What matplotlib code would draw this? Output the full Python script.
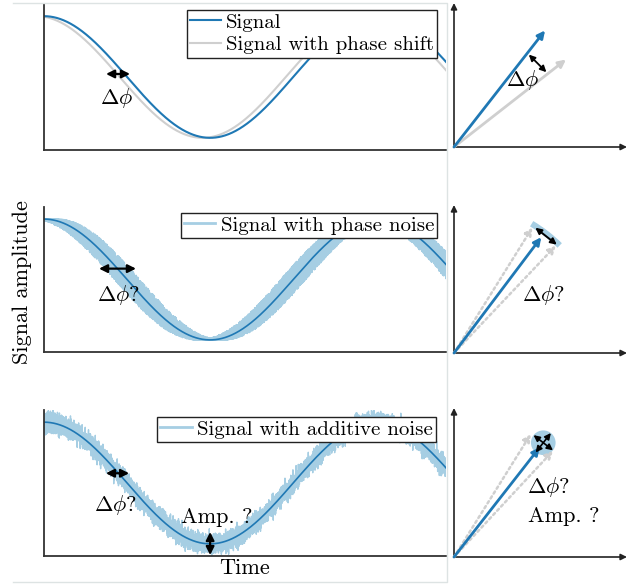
import numpy as np
import matplotlib
matplotlib.use("Agg")
import matplotlib.pyplot as plt
from matplotlib.lines import Line2D
from matplotlib.patches import Circle, Arc

plt.rcParams["font.family"] = ["cmr10", "DejaVu Serif"]
plt.rcParams["mathtext.fontset"] = "cm"
plt.rcParams["axes.formatter.use_mathtext"] = True

# signal parameters (phase in radians, amplitude normalised to 1)
t_end = 2.42 * np.pi
phase_shift = 0.14
phase_noise_max = 0.24
additive_noise_std = 0.075
n_points = 12000

# phasor diagrams: (length, angle in degrees)
phasor_ref = (1.02, 52.0)
phasor_shifted = (0.98, 38.0)
phasor_pn = (1.00, 53.0)
phasor_pn_spread = (1.02, 58.0, 46.5)     # length, upper angle, lower angle
phasor_an = (0.96, 52.0)
phasor_an_spread = (1.00, 58.0, 47.0)
an_disc_radius = 0.085

labels = ["Signal", "Signal with phase shift", "Signal with phase noise",
          "Signal with additive noise"]

dark_blue = "#1f78b4"
light_blue = "#a6cee3"
grey = "#cfcfcf"
dotted = (0, (1.0, 1.3))

W, H = 635, 586
fig = plt.figure(figsize=(W / 100, H / 100), dpi=100)


def px_axes(x0, y0, x1, y1):
    return fig.add_axes([x0 / W, 1 - y1 / H, (x1 - x0) / W, (y1 - y0) / H])


def style_time_axes(ax):
    ax.set_xlim(0, t_end)
    ax.set_ylim(-1.2, 1.2)
    ax.set_xticks([])
    ax.set_yticks([])
    for s in ["top", "right"]:
        ax.spines[s].set_visible(False)
    for s in ["left", "bottom"]:
        ax.spines[s].set_color("#333333")
        ax.spines[s].set_linewidth(1.3)


def style_phasor_axes(ax, h_px):
    ax.set_xlim(0, 173 / 145)
    ax.set_ylim(0, h_px / 145)
    ax.set_xticks([])
    ax.set_yticks([])
    ax.axis("off")
    ax.set_facecolor("none")
    for end in [(1, 0), (0, 1)]:
        ax.annotate("", xy=end, xytext=(0, 0), xycoords="axes fraction",
                    arrowprops=dict(arrowstyle="-|>", color="#222222", lw=1.2,
                                    mutation_scale=9, shrinkA=0, shrinkB=0))


def polar(r, deg):
    a = np.deg2rad(deg)
    return r * np.cos(a), r * np.sin(a)


def arrow(ax, xy, xytext, color, lw=1.8, ls="-", style="-|>", ms=11):
    ax.annotate("", xy=xy, xytext=xytext,
                arrowprops=dict(arrowstyle=style, color=color, lw=lw, ls=ls,
                                mutation_scale=ms, shrinkA=0, shrinkB=0))


def legend(ax, handles, anchor):
    leg = ax.legend(handles=handles, loc="upper right", bbox_to_anchor=anchor,
                    borderaxespad=0, fontsize=15, fancybox=False, framealpha=1,
                    edgecolor="#222222", handlelength=1.5, handletextpad=0.25,
                    borderpad=0.15, labelspacing=0.2)
    leg.get_frame().set_linewidth(1.0)


t = np.linspace(0, t_end, n_points)
rng = np.random.default_rng(7)

# --- row 1: phase shift ---
ax1 = px_axes(44, 4, 446, 150)
style_time_axes(ax1)
ax1.plot(t, np.cos(t + phase_shift), color=grey, lw=1.5)
ax1.plot(t, np.cos(t), color=dark_blue, lw=1.5)
legend(ax1, [Line2D([], [], color=dark_blue, lw=1.5, label=labels[0]),
             Line2D([], [], color=grey, lw=1.5, label=labels[1])], (0.978, 0.959))
arrow(ax1, (1.627, 0.05), (1.173, 0.05), "black", lw=1.6, style="<|-|>", ms=12)
ax1.text(1.38, -0.345, r"$\Delta\phi$", fontsize=16, ha="center", va="center")

ax1p = px_axes(454, 3, 627, 147)
style_phasor_axes(ax1p, 144)
arrow(ax1p, polar(*phasor_shifted), (0, 0), grey, lw=2)
arrow(ax1p, polar(*phasor_ref), (0, 0), dark_blue, lw=2)
arrow(ax1p, polar(0.82, 39), polar(0.82, 51), "black", lw=1.3, style="<|-|>", ms=9)
ax1p.text(0.47, 0.46, r"$\Delta\phi$", fontsize=16, ha="center", va="center")

# --- row 2: phase noise ---
ax2 = px_axes(44, 207, 446, 352)
style_time_axes(ax2)
jitter = rng.uniform(-phase_noise_max, phase_noise_max, n_points)
ax2.plot(t, np.cos(t + jitter), color=light_blue, lw=1.2)
ax2.plot(t, np.cos(t), color=dark_blue, lw=1.2)
legend(ax2, [Line2D([], [], color=light_blue, lw=2, label=labels[2])], (0.978, 0.959))
arrow(ax2, (1.74, 0.18), (1.04, 0.18), "black", lw=1.6, style="<|-|>", ms=12)
ax2.text(1.40, -0.25, r"$\Delta\phi$?", fontsize=16, ha="center", va="center")

ax2p = px_axes(454, 205, 627, 353)
style_phasor_axes(ax2p, 148)
r, a_hi, a_lo = phasor_pn_spread
ax2p.add_patch(Arc((0, 0), 2 * (r + 0.02), 2 * (r + 0.02), theta1=a_lo - 1,
                   theta2=a_hi + 1, color=light_blue, lw=4.5))
arrow(ax2p, polar(r, a_hi), (0, 0), grey, lw=1.8, ls=dotted)
arrow(ax2p, polar(r, a_lo), (0, 0), grey, lw=1.8, ls=dotted)
arrow(ax2p, polar(*phasor_pn), (0, 0), dark_blue, lw=2)
arrow(ax2p, polar(1.03, a_lo), polar(1.03, a_hi - 1), "black", lw=1.4,
      style="<|-|>", ms=9)
ax2p.text(0.614, 0.40, r"$\Delta\phi$?", fontsize=16, ha="center", va="center")

# --- row 3: additive noise ---
ax3 = px_axes(44, 410, 446, 556)
style_time_axes(ax3)
ax3.plot(t, np.cos(t) + rng.normal(0, additive_noise_std, n_points),
         color=light_blue, lw=1.0)
ax3.plot(t, np.cos(t), color=dark_blue, lw=1.2)
legend(ax3, [Line2D([], [], color=light_blue, lw=2, label=labels[3])], (0.975, 0.952))
arrow(ax3, (1.61, 0.16), (1.17, 0.16), "black", lw=1.6, style="<|-|>", ms=12)
ax3.text(1.36, -0.36, r"$\Delta\phi$?", fontsize=16, ha="center", va="center")
arrow(ax3, (np.pi, -1.185), (np.pi, -0.805), "black", lw=1.6, style="<|-|>", ms=12)
ax3.text(3.27, -0.56, "Amp. ?", fontsize=16, ha="center", va="center")
ax3.set_xlabel("Time", fontsize=16, labelpad=2)

ax3p = px_axes(454, 408, 627, 557)
style_phasor_axes(ax3p, 149)
r, a_hi, a_lo = phasor_an_spread
centre = polar(1.0, phasor_an[1])
ax3p.add_patch(Circle(centre, an_disc_radius, color=light_blue, lw=0))
arrow(ax3p, polar(r, a_hi), (0, 0), grey, lw=1.8, ls=dotted)
arrow(ax3p, polar(r, a_lo), (0, 0), grey, lw=1.8, ls=dotted)
arrow(ax3p, polar(*phasor_an), (0, 0), dark_blue, lw=2)
ang = np.deg2rad(phasor_an[1])
ux, uy = np.cos(ang), np.sin(ang)
d = 0.085
arrow(ax3p, (centre[0] + d * ux, centre[1] + d * uy),
      (centre[0] - d * ux, centre[1] - d * uy), "black", lw=1.2, style="<|-|>", ms=9)
arrow(ax3p, (centre[0] + d * uy, centre[1] - d * ux),
      (centre[0] - d * uy, centre[1] + d * ux), "black", lw=1.2, style="<|-|>", ms=9)
ax3p.text(0.655, 0.48, r"$\Delta\phi$?", fontsize=16, ha="center", va="center")
ax3p.text(0.76, 0.28, "Amp. ?", fontsize=16, ha="center", va="center")

fig.text(22 / W, 1 - 282 / H, "Signal amplitude", fontsize=16, rotation=90,
         ha="center", va="center")

# light frame round the time-domain panels
fig.add_artist(Line2D(np.array([13, 447, 447, 13]) / W,
                      1 - np.array([3, 3, 582, 582]) / H,
                      color="#dde3e3", lw=1.0))

fig.savefig("out.png", dpi=100)
